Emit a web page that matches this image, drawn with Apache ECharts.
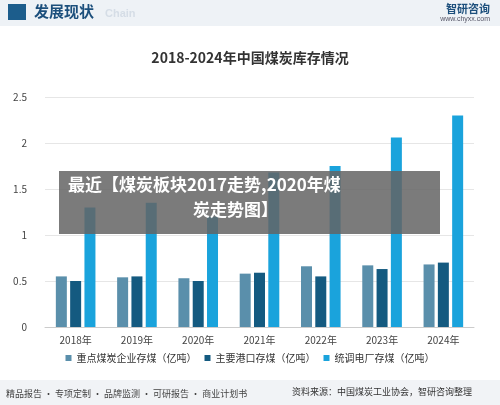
<!DOCTYPE html><html><head><meta charset="utf-8"><script src="https://cdn.jsdelivr.net/npm/echarts@6/dist/echarts.min.js"></script>
<style>body{margin:0}#c{width:500px;height:405px}</style></head><body><div id="c"></div><script>
const categories=['2018年','2019年','2020年','2021年','2022年','2023年','2024年'];
const s1=[0.55,0.54,0.53,0.58,0.66,0.67,0.68];
const s2=[0.50,0.55,0.50,0.59,0.55,0.63,0.70];
const s3=[1.30,1.35,1.20,1.68,1.75,2.06,2.30];
const names=['重点煤炭企业存煤（亿吨）','主要港口存煤（亿吨）','统调电厂存煤（亿吨）'];
const colors=['#5a8fab','#145a80','#1aa3dc'];
const F='"Noto Sans CJK SC",sans-serif';
const c=echarts.init(document.getElementById('c'));
c.setOption({
 backgroundColor:'#fff',
 title:{text:'2018-2024年中国煤炭库存情况',left:'center',top:46,textStyle:{fontFamily:F,fontSize:14,fontWeight:'bold',color:'#333'}},
 legend:{bottom:37,left:'center',itemWidth:6,itemHeight:6,itemGap:8,icon:'rect',textStyle:{fontFamily:F,fontSize:10,color:'#333'}},
 grid:{left:45,right:26,top:97,bottom:78},
 xAxis:{type:'category',data:categories,axisTick:{show:false},axisLine:{lineStyle:{color:'#ccc'}},axisLabel:{fontFamily:F,fontSize:10,color:'#444'}},
 yAxis:{type:'value',min:0,max:2.5,interval:0.5,axisLabel:{fontFamily:F,fontSize:10,color:'#444',margin:18},splitLine:{lineStyle:{color:'#e6e6e6'}}},
 series:[s1,s2,s3].map((d,i)=>({type:'bar',name:names[i],data:d,barWidth:11,barGap:'30%',itemStyle:{color:colors[i]}})),
 graphic:[
  {type:'rect',shape:{x:0,y:0,width:500,height:26},style:{fill:'#eef2f6'}},
  {type:'rect',shape:{x:8,y:4,width:18,height:16},style:{fill:'#1c5d8c'}},
  {type:'text',left:34,top:4,style:{text:'发展现状',font:'bold 15px '+F,fill:'#1c4f7c'}},
  {type:'text',left:105,top:8,style:{text:'Chain',font:'bold 11px sans-serif',fill:'#d5dde6'}},
  {type:'text',right:10,top:3,style:{text:'智研咨询',font:'bold 11px '+F,fill:'#1c4f7c'}},
  {type:'text',right:10,top:16,style:{text:'www.chyxx.com',font:'7px sans-serif',fill:'#556'}},
  {type:'rect',shape:{x:0,y:380,width:500,height:25},style:{fill:'#f1f3f6'}},
  {type:'text',left:6,top:389,style:{text:'精品报告 · 专项定制 · 品牌监测 · 可研报告 · 商业计划书',font:'9px '+F,fill:'#444'}},
  {type:'text',left:292,top:387,style:{text:'资料来源：中国煤炭工业协会，智研咨询整理',font:'9px '+F,fill:'#333'}},
  {type:'rect',z:100,shape:{x:59,y:171,width:381,height:63},style:{fill:'rgba(100,100,100,0.85)'}},
  {type:'text',z:101,left:68,top:176,style:{text:'最近【煤炭板块2017走势,2020年煤',font:'bold 17px '+F,fill:'#fff'}},
  {type:'text',z:101,left:193,top:201,style:{text:'炭走势图】',font:'bold 17px '+F,fill:'#fff'}}
 ]
});
</script></body></html>
